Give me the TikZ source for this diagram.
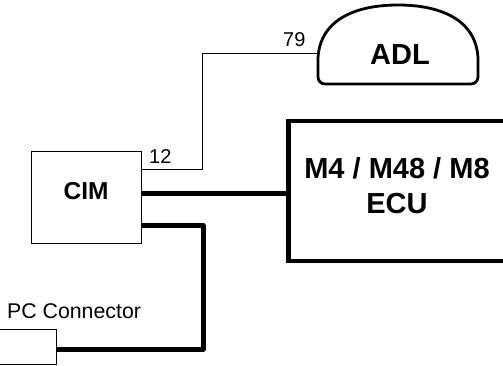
\documentclass[tikz,border=0pt]{standalone}
\usepackage{fontspec}
\setmainfont{Liberation Sans}
\begin{document}
\begin{tikzpicture}[x=1pt,y=-1pt,
  thinline/.style={line width=1pt},
  thickline/.style={line width=5pt, line join=round},
  cimbox/.style={draw, line width=1pt, inner sep=0pt, outer sep=0pt},
  ecubox/.style={draw, line width=4.3pt, inner sep=0pt, outer sep=0pt},
  adlshape/.style={line width=2.8pt, line join=round, line cap=round},
  bigbold/.style={font=\fontsize{29}{31}\selectfont\bfseries, inner sep=0pt, anchor=base},
  midbold/.style={font=\fontsize{24.5}{26}\selectfont\bfseries, inner sep=0pt, anchor=base},
  pinlabel/.style={font=\fontsize{20}{22}\selectfont, inner sep=0pt, anchor=base west},
  plainlabel/.style={font=\fontsize{21.3}{23}\selectfont, inner sep=0pt, anchor=base west}]
\useasboundingbox (0,0) rectangle (503,366);
\clip (0,0) rectangle (503,366);

% CIM
\node[cimbox, minimum width=110pt, minimum height=91.6pt] (cim) at (86.7,197.5) {};
\node[midbold] (cimtext) at (86.2,200) {CIM};

% ECU
\node[ecubox, minimum width=241.7pt, minimum height=140pt] (ecu) at (409.2,191) {};
\node[bigbold] (ecutext1) at (397,178.3) {M4 / M48 / M8};
\node[bigbold] (ecutext2) at (397,213.3) {ECU};

% ADL
\draw[adlshape] (318,58) .. controls (320,20) and (355,5) .. (398,5)
  .. controls (441,5) and (476,20) .. (478,58)
  [rounded corners=7pt] -- (478,84) -- (318,84) -- (318,58);
\draw[line width=1.2pt] (326,84.3) -- (470,84.3);
\coordinate (adlw) at (318,54);
\node[bigbold] (adl) at (400,65) {ADL};

% PC connector
\draw[thinline] (-5,329) -- (56,329) -- (56,364) -- (-5,364);
\coordinate (pc) at (56,346.5);
\node[plainlabel] (pctext) at (7,318) {PC Connector};

% connectors
\draw[thinline] (cim.east |- 0,170) -- (202,170) -- (202,54) -- (adlw);
\node[pinlabel] (pin12) at (149,163.5) {12};
\node[pinlabel] (pin79) at (283,47) {79};

\draw[thickline] (cim.east |- 0,194) -- (ecu.west |- 0,194);
\draw[thickline] (cim.east |- 0,225.5) -- (203,225.5) -- (203,349) -- (pc |- 0,349);
\end{tikzpicture}
\end{document}
